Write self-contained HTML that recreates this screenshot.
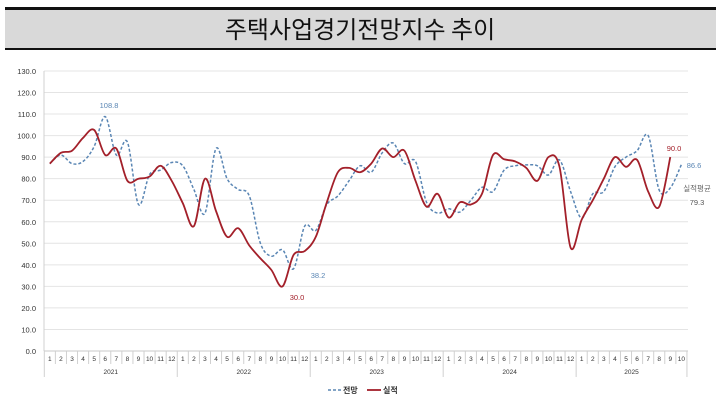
<!DOCTYPE html>
<html><head><meta charset="utf-8"><style>
body{margin:0;background:#fff;width:720px;height:401px;overflow:hidden;font-family:"Liberation Sans","Noto Sans CJK KR",sans-serif}
</style></head><body>
<svg id="s" width="720" height="401" xmlns="http://www.w3.org/2000/svg" style="position:absolute;left:0;top:0">
<rect x="5" y="9" width="711" height="40" fill="#d9d9d9"/>
<rect x="5" y="7" width="711" height="3" fill="#111"/>
<rect x="5" y="48" width="711" height="2" fill="#111"/>
<text x="360" y="38" text-anchor="middle" font-size="24" fill="#111" font-family="Noto Sans CJK KR, sans-serif">주택사업경기전망지수 추이</text>
<g id="g"></g>
</svg>
<script>
var s=document.getElementById('g'),h='';
var X0=44.3,W=11.08,Y0=351,K=2.154;
function Y(v){return Y0-v*K}
for(var i=0;i<=13;i++){var y=Y(i*10);
 if(i>0)h+='<line x1="44" x2="688" y1="'+y+'" y2="'+y+'" stroke="#e4e4e4" stroke-width="1"/>';
 h+='<text x="36" y="'+(y+3)+'" font-size="7.5" text-anchor="end" fill="#333">'+(i*10)+'.0</text>';}
h+='<line x1="44" x2="44" y1="71" y2="351" stroke="#d0d0d0"/>';
h+='<line x1="44" x2="688" y1="351" y2="351" stroke="#c8c8c8"/>';
var years=[2021,2022,2023,2024,2025];
for(var i=0;i<=58;i++){var x=X0+i*W;var yr=(i%12==0||i==58);
 h+='<line x1="'+x+'" x2="'+x+'" y1="351" y2="'+(yr?377:364)+'" stroke="#d0d0d0"/>';
 if(i<58)h+='<text x="'+(x+W/2)+'" y="361" font-size="6.5" text-anchor="middle" fill="#333">'+(i%12+1)+'</text>';}
for(var k=0;k<5;k++){var a=X0+k*12*W,b=Math.min(X0+(k*12+12)*W,X0+58*W);
 h+='<text x="'+((a+b)/2)+'" y="374" font-size="6.5" text-anchor="middle" fill="#333">'+years[k]+'</text>';}
var F=[87,91,87,88,95,108.8,91,97,68,82,84,87.5, 86,75,64,94,80,75,72,50,44,47,38.2,58, 56,68,72,79,86,83,92,96.5,87,88,69,64, 66,64.5,70,76,74,84,86,86.4,86,81.7,88.7,74, 61.7,73,74,85.5,90,93,100,74.7,75.7,86.6];
var A=[87,92,93,99,102.6,91,94,79,80,81,86,79, 68.6,58,80,65,53,57,49,43,37.6,30,44.6,46.4, 53,69,83,85,83,87,94,90,93,79,67,73, 62,69,68,73,91,89,88,85,79,90,85.5,48, 61,70,80,90,85.5,88.7,74,67,90];
function path(d){var p=d.map(function(v,i){return [X0+W*(i+.5),Y(v)]});var s='M'+p[0][0].toFixed(1)+','+p[0][1].toFixed(1);
 for(var i=0;i<p.length-1;i++){var p0=p[i-1]||p[i],p1=p[i],p2=p[i+1],p3=p[i+2]||p2,t=6;
 s+=' C'+(p1[0]+(p2[0]-p0[0])/t).toFixed(1)+','+(p1[1]+(p2[1]-p0[1])/t).toFixed(1)+' '+(p2[0]-(p3[0]-p1[0])/t).toFixed(1)+','+(p2[1]-(p3[1]-p1[1])/t).toFixed(1)+' '+p2[0].toFixed(1)+','+p2[1].toFixed(1);}
 return s;}
h+='<path d="'+path(F)+'" fill="none" stroke="#5a86b4" stroke-width="1.5" stroke-dasharray="3,2"/>';
h+='<path d="'+path(A)+'" fill="none" stroke="#a3202a" stroke-width="1.8"/>';
h+='<text x="109" y="108" font-size="7.5" text-anchor="middle" fill="#5a86b4">108.8</text>';
h+='<text x="318" y="278" font-size="7.5" text-anchor="middle" fill="#5a86b4">38.2</text>';
h+='<text x="297" y="300" font-size="7.5" text-anchor="middle" fill="#a3202a">30.0</text>';
h+='<text x="674" y="151" font-size="7.5" text-anchor="middle" fill="#a3202a">90.0</text>';
h+='<text x="694" y="168" font-size="7.5" text-anchor="middle" fill="#5a86b4">86.6</text>';
h+='<text x="697" y="191" font-size="7.5" text-anchor="middle" fill="#666">실적평균</text>';
h+='<text x="697" y="205" font-size="7.5" text-anchor="middle" fill="#555">79.3</text>';
h+='<line x1="328" x2="341" y1="390" y2="390" stroke="#5a86b4" stroke-width="1.5" stroke-dasharray="3,2"/>';
h+='<text x="343" y="393" font-size="8" font-weight="bold" fill="#333">전망</text>';
h+='<line x1="367" x2="381" y1="390" y2="390" stroke="#a3202a" stroke-width="1.8"/>';
h+='<text x="383" y="393" font-size="8" font-weight="bold" fill="#333">실적</text>';
s.innerHTML=h;
</script>
</body></html>
